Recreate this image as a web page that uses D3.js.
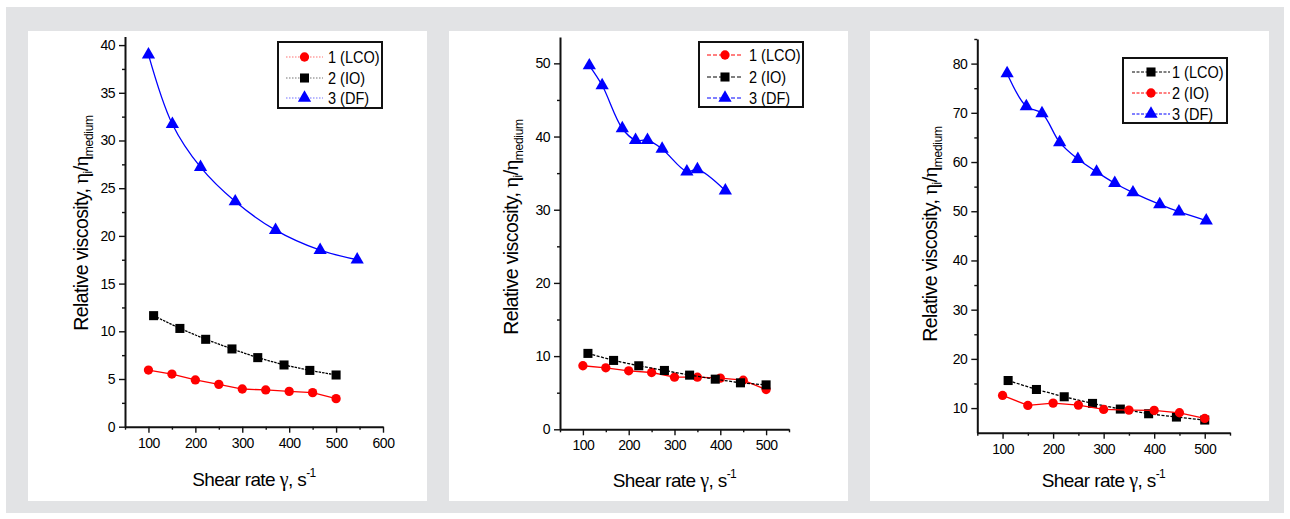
<!DOCTYPE html>
<html>
<head>
<meta charset="utf-8">
<script src="https://cdnjs.cloudflare.com/ajax/libs/d3/7.8.5/d3.min.js"></script>
<style>
  body { margin: 0; background: #fff; }
  text { font-family: "Liberation Sans", Arial, sans-serif; fill: #000; }
</style>
</head>
<body>
<div id="chart"></div>
<script>
// ---- data ----
const seriesNames = ["1 (LCO)", "2 (IO)", "3 (DF)"];

// panel 1
const p1CircleX = [100, 150, 200, 250, 300, 350, 400, 450, 500];
const p1LCO = [5.94, 5.52, 4.9, 4.44, 3.95, 3.85, 3.7, 3.57, 2.94];
const p1SquareX = [111, 167, 222, 278, 333, 389, 444, 500];
const p1IO = [11.64, 10.3, 9.16, 8.15, 7.24, 6.47, 5.9, 5.42];
const p1TriX = [100, 151, 211, 285, 371, 466, 545];
const p1DF = [39.0, 31.7, 27.2, 23.6, 20.6, 18.5, 17.5];

// panel 2
const p2CircleX = [100, 150, 200, 250, 300, 350, 400, 450, 500];
const p2LCO = [8.68, 8.4, 7.99, 7.76, 7.12, 7.12, 6.99, 6.71, 5.43];
const p2SquareX = [111, 167, 222, 278, 333, 389, 444, 500];
const p2IO = [10.37, 9.41, 8.68, 8.04, 7.4, 6.85, 6.35, 6.07];
const p2TriX = [114, 142, 186, 215, 241, 273, 327, 350, 411];
const p2DF = [49.7, 47.0, 41.1, 39.5, 39.5, 38.3, 35.2, 35.5, 32.6];

// panel 3 (here LCO is drawn with squares, IO with circles)
const p3SquareX = [111, 167, 222, 278, 333, 389, 444, 500];
const p3LCO = [15.6, 13.78, 12.3, 10.95, 9.8, 8.85, 8.18, 7.57];
const p3CircleX = [100, 150, 200, 250, 300, 350, 400, 450, 500];
const p3IO = [12.57, 10.54, 11.01, 10.61, 9.73, 9.59, 9.53, 9.05, 7.9];
const p3TriX = [109, 147, 178, 213, 249, 286, 322, 358, 411, 449, 503];
const p3DF = [78.0, 71.3, 69.9, 64.0, 60.6, 58.0, 55.7, 53.8, 51.4, 49.9, 48.1];

// tick labels
const p1XTicks = [100, 200, 300, 400, 500, 600];
const p1YTicks = [0, 5, 10, 15, 20, 25, 30, 35, 40];
const p2XTicks = [100, 200, 300, 400, 500];
const p2YTicks = [0, 10, 20, 30, 40, 50];
const p3XTicks = [100, 200, 300, 400, 500];
const p3YTicks = [10, 20, 30, 40, 50, 60, 70, 80];

const W = 1290, H = 519;
const svg = d3.select("#chart").append("svg")
    .attr("width", W)
    .attr("height", H);

svg.append("rect")
    .attr("x", 6).attr("y", 7)
    .attr("width", 1278).attr("height", 506)
    .attr("fill", "#e2e3e5");

const symbols = {circle: d3.symbolCircle, square: d3.symbolSquare, triangle: d3.symbolTriangle};
const symSize = {circle: 68, square: 82, triangle: 76};

const panels = [
    {
        frame: [28, 31, 427, 501],
        xr: [125, 383], xd: [50, 600],
        yr: [426.7, 36.5], yd: [0, 40.9],
        xTicks: p1XTicks, xMinor: [50, 150, 250, 350, 450, 550],
        yTicks: p1YTicks, yMinor: d3.range(2.5, 40, 5),
        legend: {x: 278, y: 42, w: 104, h: 66, rows: [57, 78, 98], line: [286, 323], text: 328},
        legendDash: "1.5,1.5", legendOpacity: 0.55,
        yLabel: [88, 223], xLabel: [254, 486],
        series: [
            {xs: p1CircleX, ys: p1LCO, color: "#ff0000", sym: "circle", dash: null, curve: d3.curveLinear},
            {xs: p1SquareX, ys: p1IO, color: "#000000", sym: "square", dash: "2.5,1", curve: d3.curveLinear},
            {xs: p1TriX, ys: p1DF, color: "#0000ff", sym: "triangle", dash: null, curve: d3.curveCatmullRom}
        ]
    },
    {
        frame: [449, 31, 848, 501],
        xr: [560, 789], xd: [50, 550],
        yr: [429.3, 37], yd: [0, 53.6],
        xTicks: p2XTicks, xMinor: [50, 150, 250, 350, 450, 550],
        yTicks: p2YTicks, yMinor: d3.range(5, 50, 10),
        legend: {x: 699, y: 42, w: 104, h: 65, rows: [55, 77, 98], line: [707, 743], text: 749},
        legendDash: "4,2", legendOpacity: 1,
        yLabel: [518, 227], xLabel: [674.5, 487],
        series: [
            {xs: p2CircleX, ys: p2LCO, color: "#ff0000", sym: "circle", dash: null, curve: d3.curveLinear},
            {xs: p2SquareX, ys: p2IO, color: "#000000", sym: "square", dash: "3,1.5", curve: d3.curveLinear},
            {xs: p2TriX, ys: p2DF, color: "#0000ff", sym: "triangle", dash: null, curve: d3.curveCatmullRom}
        ]
    },
    {
        frame: [870, 31, 1269, 501],
        xr: [977.3, 1230], xd: [50, 550],
        yr: [432.7, 39], yd: [5, 85],
        xTicks: p3XTicks, xMinor: [50, 150, 250, 350, 450, 550],
        yTicks: p3YTicks, yMinor: d3.range(15, 86, 10),
        legend: {x: 1123, y: 58, w: 104, h: 65, rows: [72, 93, 114], line: [1132, 1170], text: 1172},
        legendDash: "3,1.5", legendOpacity: 1,
        yLabel: [937, 234], xLabel: [1103.5, 487],
        series: [
            {xs: p3SquareX, ys: p3LCO, color: "#000000", sym: "square", dash: "3,1.5", curve: d3.curveLinear},
            {xs: p3CircleX, ys: p3IO, color: "#ff0000", sym: "circle", dash: null, curve: d3.curveLinear},
            {xs: p3TriX, ys: p3DF, color: "#0000ff", sym: "triangle", dash: null, curve: d3.curveCatmullRom}
        ]
    }
];

panels.forEach(function (p) {
    const g = svg.append("g");

    g.append("rect")
        .attr("x", p.frame[0]).attr("y", p.frame[1])
        .attr("width", p.frame[2] - p.frame[0])
        .attr("height", p.frame[3] - p.frame[1])
        .attr("fill", "#fff");

    const x = d3.scaleLinear().domain(p.xd).range(p.xr);
    const y = d3.scaleLinear().domain(p.yd).range(p.yr);

    // minor ticks first, then major axis on top
    g.append("g")
        .attr("transform", `translate(0,${p.yr[0]})`)
        .call(d3.axisBottom(x).tickValues(p.xMinor).tickSize(3).tickSizeOuter(0).tickFormat(""))
        .call(a => a.select(".domain").remove())
        .selectAll("line").attr("stroke", "#111").attr("stroke-width", 1.4);
    g.append("g")
        .attr("transform", `translate(${p.xr[0]},0)`)
        .call(d3.axisLeft(y).tickValues(p.yMinor).tickSize(3).tickSizeOuter(0).tickFormat(""))
        .call(a => a.select(".domain").remove())
        .selectAll("line").attr("stroke", "#111").attr("stroke-width", 1.4);

    const xAxis = g.append("g")
        .attr("transform", `translate(0,${p.yr[0]})`)
        .call(d3.axisBottom(x).tickValues(p.xTicks).tickSize(6).tickSizeOuter(0).tickPadding(5));
    const yAxis = g.append("g")
        .attr("transform", `translate(${p.xr[0]},0)`)
        .call(d3.axisLeft(y).tickValues(p.yTicks).tickSize(6).tickSizeOuter(0).tickPadding(4));

    [xAxis, yAxis].forEach(function (a) {
        a.select(".domain").attr("stroke", "#111").attr("stroke-width", 2);
        a.selectAll(".tick line").attr("stroke", "#111").attr("stroke-width", 1.4);
        a.selectAll(".tick text")
            .style("font-family", "'Liberation Sans', Arial, sans-serif")
            .style("font-size", "14px")
            .style("letter-spacing", "-0.5px")
            .attr("fill", "#111");
    });

    // data lines and markers
    p.series.forEach(function (s) {
        const pts = s.xs.map((v, i) => [v, s.ys[i]]);
        g.append("path")
            .datum(pts)
            .attr("fill", "none")
            .attr("stroke", s.color)
            .attr("stroke-width", 1.3)
            .attr("stroke-dasharray", s.dash)
            .attr("d", d3.line().x(d => x(d[0])).y(d => y(d[1])).curve(s.curve));
        g.selectAll(null)
            .data(pts)
            .enter().append("path")
            .attr("transform", d => `translate(${x(d[0])},${y(d[1])})`)
            .attr("fill", s.color)
            .attr("d", d3.symbol().type(symbols[s.sym]).size(symSize[s.sym]));
    });

    // legend
    const L = p.legend;
    g.append("rect")
        .attr("x", L.x).attr("y", L.y)
        .attr("width", L.w).attr("height", L.h)
        .attr("fill", "#fff")
        .attr("stroke", "#111")
        .attr("stroke-width", 2);
    p.series.forEach(function (s, i) {
        const ry = L.rows[i];
        g.append("line")
            .attr("x1", L.line[0]).attr("x2", L.line[1])
            .attr("y1", ry).attr("y2", ry)
            .attr("stroke", s.color)
            .attr("stroke-width", 1)
            .attr("stroke-opacity", p.legendOpacity)
            .attr("stroke-dasharray", p.legendDash);
        g.append("path")
            .attr("transform", `translate(${(L.line[0] + L.line[1]) / 2},${ry})`)
            .attr("fill", s.color)
            .attr("d", d3.symbol().type(symbols[s.sym]).size(symSize[s.sym]));
        // reference font is a bit condensed, so squeeze it horizontally
        g.append("text")
            .attr("transform", `translate(${L.text},${ry + 6}) scale(0.88,1)`)
            .style("font-size", "16.5px")
            .text(seriesNames[i]);
    });

    // y axis title
    const yt = g.append("text")
        .attr("transform", `translate(${p.yLabel[0]},${p.yLabel[1]}) rotate(-90)`)
        .attr("text-anchor", "middle")
        .style("font-size", "19.5px")
        .style("letter-spacing", "-0.6px");
    yt.append("tspan").text("Relative viscosity, ");
    yt.append("tspan").style("font-family", "'Liberation Serif', serif").style("font-size", "21px").text("η");
    yt.append("tspan").attr("dy", 4).style("font-size", "12px").text("i");
    yt.append("tspan").attr("dy", -4).text("/");
    yt.append("tspan").style("font-family", "'Liberation Serif', serif").style("font-size", "21px").text("η");
    yt.append("tspan").attr("dy", 5).style("font-size", "12px").style("letter-spacing", "-0.3px").text("medium");

    // x axis title
    const xt = g.append("text")
        .attr("x", p.xLabel[0]).attr("y", p.xLabel[1])
        .attr("text-anchor", "middle")
        .style("font-size", "19px")
        .style("letter-spacing", "-0.6px");
    xt.append("tspan").text("Shear rate ");
    xt.append("tspan").style("font-family", "'Liberation Serif', serif").style("font-size", "20px").text("γ");
    xt.append("tspan").text(", s");
    xt.append("tspan").attr("dy", -9).style("font-size", "12px").text("-1");
});
</script>
</body>
</html>
